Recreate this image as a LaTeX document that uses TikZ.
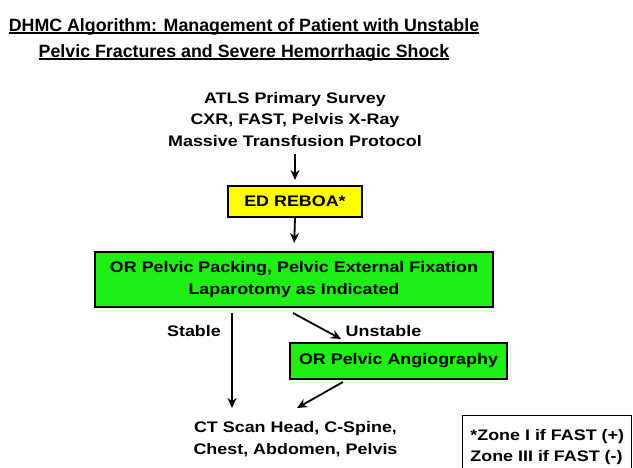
\documentclass[tikz,border=0pt]{standalone}
\usepackage{fontspec}
\setmainfont{Liberation Sans}
\newfontfamily\bodyf[FakeStretch=1.17]{Liberation Sans Bold}
\newfontfamily\titlef{Liberation Sans Bold}
\usetikzlibrary{arrows.meta}
\definecolor{boxgreen}{RGB}{30,240,20}
\definecolor{boxyellow}{RGB}{255,255,0}
\newcommand\tul[1]{\setbox0\hbox{#1}\rlap{\rule[-3pt]{\wd0}{1.6pt}}\box0}
\begin{document}
\begin{tikzpicture}[x=1pt,y=-1pt,
  txt/.style={font=\bodyf\fontsize{15.3}{21.5}\selectfont, align=center, inner sep=0pt},
  box/.style={txt, draw=black, line width=2pt},
  arr/.style={-{Stealth[length=10pt,width=9pt]}, line width=1.8pt}]
\useasboundingbox (0,0) rectangle (633,468);
\node[font=\titlef\fontsize{17.8}{26}\selectfont, align=center, inner sep=0pt] (title) at (244,39.5)
  {\tul{DHMC Algorithm: Management of Patient with Unstable}\\\tul{Pelvic Fractures and Severe Hemorrhagic Shock}};
\node[txt] (atls) at (295,119.5) {ATLS Primary Survey\\CXR, FAST, Pelvis X-Ray\\Massive Transfusion Protocol};
\node[box, fill=boxyellow, minimum width=134pt, minimum height=31pt] (reboa) at (295,201.5) {ED REBOA*};
\node[box, fill=boxgreen, minimum width=398pt, minimum height=55pt] (or) at (294,279.5) {OR Pelvic Packing, Pelvic External Fixation\\Laparotomy as Indicated};
\node[box, fill=boxgreen, minimum width=217pt, minimum height=36pt] (angio) at (398.5,361) {OR Pelvic Angiography};
\node[txt] (ct) at (295.5,439) {CT Scan Head, C-Spine,\\Chest, Abdomen, Pelvis};
\node[txt, anchor=base] (stable) at (194,336.5) {Stable};
\node[txt, anchor=base] (unstable) at (383.5,336.5) {Unstable};
\node[txt, align=left, anchor=north west, draw=black, line width=1.4pt, inner xsep=2.5pt, inner ysep=13.5pt, minimum width=169pt] (zone) at (462,415) {*Zone I if FAST (+)\\Zone III if FAST (-)};
\coordinate (s1) at (232,313);
\coordinate (s2) at (232,408);
\coordinate (u1) at (293,313);
\coordinate (u2) at (341,339);
\coordinate (a1) at (343,382);
\coordinate (a2) at (297,408);
\draw[arr, shorten <=7pt, shorten >=5pt] (atls.south) -- (reboa.north);
\draw[arr, shorten >=8pt] (reboa.south) -- (or.north);
\draw[arr] (s1) -- (s2);
\draw[arr] (u1) -- (u2);
\draw[arr] (a1) -- (a2);
\end{tikzpicture}
\end{document}
